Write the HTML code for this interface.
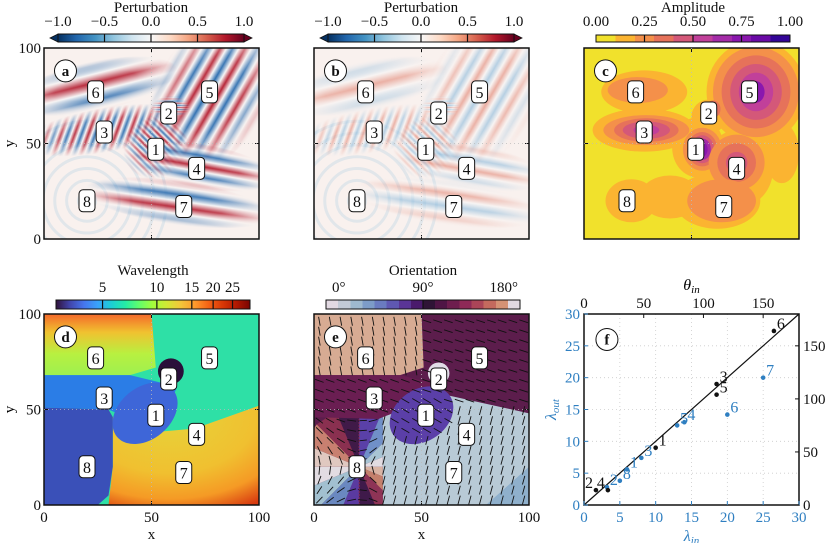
<!DOCTYPE html>
<html><head><meta charset="utf-8">
<style>
html,body{margin:0;padding:0;background:#fff;}
svg, svg text{font-family:"Liberation Serif","Times New Roman",Times,"DejaVu Serif",serif;}
</style></head>
<body>
<svg id="fig" xmlns="http://www.w3.org/2000/svg" width="827" height="543" viewBox="0 0 827 543">
<defs id="defs"></defs>
</svg>
<script>
// ---------- data ----------
const sourceIds = ['1','2','3','4','5','6','7','8'];
const sourceX = [52, 58, 28, 71, 77, 24, 65, 20];
const sourceY = [47, 66, 56, 37, 77, 77, 17, 20];
const axisTicks = [0, 50, 100];
// panel f
const thetaLabels = ['1','2','3','4','5','6'];
const thetaIn  = [60, 10, 111, 20, 111, 159];
const thetaOut = [54, 14, 114, 14, 104, 164];
const lambdaLabels = ['1','2','3','4','5','6','7','8'];
const lambdaIn  = [6.0, 3.2, 8.0, 14.0, 13.0, 20.0, 25.0, 5.0];
const lambdaOut = [5.6, 2.8, 7.4, 13.0, 12.5, 14.2, 20.0, 3.8];
const lambdaTicks = [0,5,10,15,20,25,30];
const thetaTicksTop = [0,50,100,150];
const thetaTicksRight = [0,50,100,150];
const pertTicks = [-1.0,-0.5,0.0,0.5,1.0];
const ampTicks = [0.00,0.25,0.50,0.75,1.00];
const wlTicks = [5,10,15,20,25];
const orTicks = ['0°','90°','180°'];

const NS='http://www.w3.org/2000/svg';
const FONT="'Liberation Serif','Times New Roman',Times,'DejaVu Serif',serif";
const svg=document.getElementById('fig');
const defs=document.getElementById('defs');
function el(tag,attrs,parent){const e=document.createElementNS(NS,tag);for(const k in attrs)e.setAttribute(k,attrs[k]);(parent||svg).appendChild(e);return e;}
function txt(x,y,s,size,anchor,parent,fill){const t=el('text',{x:x,y:y,'font-size':size,'text-anchor':anchor||'middle',fill:fill||'#111'},parent);t.style.fontFamily=FONT;t.textContent=s;return t;}

const P={a:[44,48],b:[314,48],c:[584,48],d:[44,314],e:[314,314],f:[584,314]};
const W=215,H=191;
function mk(p){const [x0,y0]=P[p];return {X:v=>x0+v/100*W,Y:v=>y0+H-v/100*H,S:W/100,x0:x0,y0:y0};}

function clip(id,p){const c=el('clipPath',{id:id},defs);el('rect',{x:P[p][0],y:P[p][1],width:W,height:H},c);}
['a','b','c','d','e','f'].forEach(p=>clip('clip-'+p,p));

let pid=0;
function stripePattern(lam,ang,amp){
  const id='pat'+(pid++);
  const g=el('linearGradient',{id:id+'g',x1:0,y1:0,x2:1,y2:0},defs);
  const r=amp>0.6?'#b2182b':'#e0806e', b=amp>0.6?'#2166ac':'#84b6da';
  [[0,r],[0.25,'#f7f7f7'],[0.5,b],[0.75,'#f7f7f7'],[1,r]].forEach(s=>el('stop',{offset:s[0],'stop-color':s[1]},g));
  const pt=el('pattern',{id:id,patternUnits:'userSpaceOnUse',width:lam,height:10,patternTransform:'rotate('+ang+')'},defs);
  el('rect',{x:0,y:0,width:lam,height:10,fill:'url(#'+id+'g)'},pt);
  return id;
}
let mid=0;
function fadeMask(cx,cy,rx,ry,rot){
  const id='msk'+(mid++);
  const rg=el('radialGradient',{id:id+'r'},defs);
  [[0,'#fff',1],[0.5,'#fff',0.85],[1,'#fff',0]].forEach(s=>el('stop',{offset:s[0],'stop-color':s[1],'stop-opacity':s[2]},rg));
  const m=el('mask',{id:id,maskUnits:'userSpaceOnUse',x:0,y:0,width:827,height:543},defs);
  el('ellipse',{cx:cx,cy:cy,rx:rx,ry:ry,fill:'url(#'+id+'r)',transform:'rotate('+rot+' '+cx+' '+cy+')'},m);
  return id;
}

// wave field components: [cx,cy,rx,ry,rot,lam,stripeAng,amp]
const waves=[
 [78,76,20,30,30,10,30,0.9],
 [24,80,30,9,-12,16,76,0.85],
 [28,57,30,8,-10,6,20,0.85],
 [52,48,12,11,-35,4,-45,0.95],
 [74,38,26,8,10,10,-80,0.85],
 [62,19,34,8,8,12,-82,0.85],
 [59,69,7,4,0,2,90,0.8]
];

function axesFrame(p,showX,showY,name){
  const m=mk(p);
  const g=el('g',{});
  el('rect',{x:m.x0,y:m.y0,width:W,height:H,fill:'none',stroke:'#111','stroke-width':1.5},g);
  axisTicks.forEach(v=>{
    el('line',{x1:m.X(v),x2:m.X(v),y1:m.y0+H,y2:m.y0+H-4,stroke:'#111'},g);
    el('line',{x1:m.X(v),x2:m.X(v),y1:m.y0,y2:m.y0+4,stroke:'#111'},g);
    el('line',{x1:m.x0,x2:m.x0+4,y1:m.Y(v),y2:m.Y(v),stroke:'#111'},g);
    el('line',{x1:m.x0+W,x2:m.x0+W-4,y1:m.Y(v),y2:m.Y(v),stroke:'#111'},g);
    if(showY){const t=txt(m.x0-3,m.Y(v)+5,String(v),15,'end',g);}
    if(showX){const t=txt(m.X(v),m.y0+H+17,String(v),15,'middle',g);}
  });
  el('line',{x1:m.x0,x2:m.x0+W,y1:m.Y(50),y2:m.Y(50),stroke:'#bbb','stroke-dasharray':'1,3','stroke-width':0.8},g);
  el('line',{x1:m.X(50),x2:m.X(50),y1:m.y0,y2:m.y0+H,stroke:'#bbb','stroke-dasharray':'1,3','stroke-width':0.8},g);
  if(showY){const t=el('text',{x:0,y:0,'font-size':15,'text-anchor':'middle',transform:'translate(14,'+(m.Y(50))+') rotate(-90)'},g);t.style.fontFamily=FONT;t.textContent='y';}
  if(showX){const t=txt(m.X(50),m.y0+H+34,'x',15,'middle',g);}
}
function sourceLabels(p){
  const m=mk(p);
  const g=el('g',{});
  sourceIds.forEach((s,i)=>{
    const cx=m.X(sourceX[i]),cy=m.Y(sourceY[i]);
    const b=el('rect',{x:cx-8,y:cy-11,width:16,height:22,rx:4,fill:'#fff',stroke:'#111','stroke-width':1},g);
    
    
    txt(cx,cy+6,s,16,'middle',g);
  });
  const c=el('circle',{cx:m.X(10),cy:m.Y(88),r:11,fill:'#fff',stroke:'#111','stroke-width':1},g);
  
  
  const t=txt(m.X(10),m.Y(88)+5,p,15,'middle',g);t.setAttribute('font-weight','bold');
}

// ---------- panels a & b ----------
function pertPanel(p,scale){
  const m=mk(p);
  const g=el('g',{'clip-path':'url(#clip-'+p+')',});
  el('rect',{x:m.x0,y:m.y0,width:W,height:H,fill:'#f9f1ee'},g);
  const rg=el('g',{opacity:0.25},g);
  for(let r=4;r<40;r+=5.5){el('circle',{cx:m.X(20),cy:m.Y(20),r:r*m.S,fill:'none',stroke:'#9ec6e0','stroke-width':3},rg);}
  waves.forEach(w=>{
    const cx=m.X(w[0]),cy=m.Y(w[1]);
    const pat=stripePattern(w[5]*m.S,w[6],w[7]*scale);
    const mk2=fadeMask(cx,cy,w[2]*m.S*1.3,w[3]*m.S*1.3,w[4]);
    el('rect',{x:m.x0,y:m.y0,width:W,height:H,fill:'url(#'+pat+')',mask:'url(#'+mk2+')',opacity:Math.min(1,w[7]*scale+0.1)},g);
  });
}
pertPanel('a',1.0);
pertPanel('b',0.6);
axesFrame('a',false,true,'panel-a');
axesFrame('b',false,false,'panel-b');
sourceLabels('a');sourceLabels('b');

function colorbar(x,y,w,h,stops,id,name,stepped){
  const lg=el('linearGradient',{id:id,x1:0,y1:0,x2:1,y2:0},defs);
  if(stepped){const n=stops.length;stops.forEach((c,i)=>{el('stop',{offset:i/n,'stop-color':c},lg);el('stop',{offset:(i+1)/n,'stop-color':c},lg);});}
  else stops.forEach((c,i)=>el('stop',{offset:i/(stops.length-1),'stop-color':c},lg));
  const r=el('rect',{x:x,y:y,width:w,height:h,fill:'url(#'+id+')',stroke:'#111','stroke-width':1});
  
  
}
const rdbu=['#053061','#2166ac','#4393c3','#92c5de','#d1e5f0','#f7f7f7','#fddbc7','#f4a582','#d6604d','#b2182b','#67001f'];
function pertBar(x0,name){
  const x=x0,w=186,y=34,h=8;
  el('polygon',{points:(x-8)+','+(y+h/2)+' '+x+','+y+' '+x+','+(y+h),fill:'#053061',stroke:'#111','stroke-width':0.8});
  el('polygon',{points:(x+w+8)+','+(y+h/2)+' '+(x+w)+','+y+' '+(x+w)+','+(y+h),fill:'#67001f',stroke:'#111','stroke-width':0.8});
  colorbar(x,y,w,h,rdbu,'g'+name,name+'-colorbar',false);
  pertTicks.forEach(v=>{const px=x+(v+1)/2*w;
    if(v>-1&&v<1)el('line',{x1:px,x2:px,y1:y,y2:y+h,stroke:'#111','stroke-width':1.2});
    const t=txt(px,26,(v<0?'−':'')+Math.abs(v).toFixed(1),15,'middle');});
  const t=txt(x+w/2,12,'Perturbation',15,'middle');
}
pertBar(58,'a');pertBar(328,'b');

// ---------- panel c ----------
const ampCols=['#f1e12c','#fbb431','#f4904a','#e6725a','#d45879','#c1409a','#a42ca8','#8a17ae','#6a0aa6','#330597'];
(function(){
  const m=mk('c');
  const g=el('g',{'clip-path':'url(#clip-c)',});
  el('rect',{x:m.x0,y:m.y0,width:W,height:H,fill:ampCols[0]},g);
  const env=[[80,77,23,24],[28,77,20,10],[28,57,24,10],[53,48,12,14],[72,37,16,18],[62,20,20,13],[22,20,12,10],[40,22,14,10],[58,64,8,8],[92,45,8,14]];
  env.forEach(e=>el('ellipse',{cx:m.X(e[0]),cy:m.Y(e[1]),rx:e[2]*m.S,ry:e[3]*m.S,fill:ampCols[1]},g));
  const lv=[
    [80,77,[[20,21,2],[16,17,3],[12,13,4],[8,9,5],[4,5,7]]],
    [25,78,[[14,6,2]]],
    [29,57,[[20,7,2],[15,5.5,3],[11,4,4],[6,2.5,5]]],
    [55,47,[[9,10,2],[7,8,3],[5.5,6.5,4],[4,5,6],[2.5,3.5,7]]],
    [71,40,[[13,13,2],[9,9,3],[5,5,4]]],
    [64,20,[[16,10,2]]],
    [60,68,[[3.5,4,3],[2,2.5,5]]]
  ];
  lv.forEach(b=>b[2].forEach(l=>el('ellipse',{cx:m.X(b[0]),cy:m.Y(b[1]),rx:l[0]*m.S,ry:l[1]*m.S,fill:ampCols[l[2]]},g)));
})();
axesFrame('c',false,false,'panel-c');sourceLabels('c');
colorbar(596,35,194,7,ampCols.slice(0,8).concat(['#6a0aa6','#330597']),'gc','amplitude-colorbar',true);
ampTicks.forEach((v,i)=>{const px=596+v*194;if(i>0&&i<4)el('line',{x1:px,x2:px,y1:35,y2:42,stroke:'#111','stroke-width':1.2});
  const t=txt(px,26,v.toFixed(2),15,'middle');});
{const t=txt(693,12,'Amplitude',15,'middle');}

// ---------- panel d ----------
(function(){
  const m=mk('d');
  const g=el('g',{'clip-path':'url(#clip-d)',});
  const pts=a=>a.map(p=>m.X(p[0])+','+m.Y(p[1])).join(' ');
  const tl=el('linearGradient',{id:'dtl',x1:0,y1:0,x2:0,y2:1},defs);
  [['0','#f5682a'],['0.3','#f0c230'],['0.65','#b8f040'],['1','#9ef050']].forEach(s=>el('stop',{offset:s[0],'stop-color':s[1]},tl));
  el('rect',{x:m.x0,y:m.y0,width:W,height:H,fill:'#2ee0a6'},g);
  el('polygon',{points:pts([[0,100],[50,100],[52,72],[40,68],[0,68]]),fill:'url(#dtl)'},g);
  el('polygon',{points:pts([[0,68],[40,68],[62,62],[58,52],[48,48],[40,45],[30,50],[0,51]]),fill:'#2b7de6'},g);
  const br=el('radialGradient',{id:'dbr',cx:0.4,cy:0.1,r:1.05},defs);
  [['0','#e6d43a'],['0.55','#f0c030'],['0.8','#f59a25'],['1','#d83a10']].forEach(s=>el('stop',{offset:s[0],'stop-color':s[1]},br));
  el('polygon',{points:pts([[32,46],[50,38],[70,40],[100,52],[100,0],[30,0],[32,20]]),fill:'url(#dbr)'},g);
  el('polygon',{points:pts([[0,51],[30,50],[32,46],[32,20],[30,5],[25,0],[0,0]]),fill:'#3a50b8'},g);
  el('ellipse',{cx:m.X(47),cy:m.Y(48),rx:17*m.S,ry:12*m.S,fill:'#3e66d8',transform:'rotate(-40 '+m.X(47)+' '+m.Y(48)+')'},g);
  el('circle',{cx:m.X(59),cy:m.Y(70),r:6*m.S,fill:'#2a0f3a'},g);
})();
axesFrame('d',true,true,'panel-d');sourceLabels('d');
(function(){
  const x=56,w=194,y=300,h=9;
  colorbar(x,y,w,h,['#30123b','#4145ab','#4675ed','#39a2fc','#1bcfd4','#24eca6','#61fc6c','#a4fc3b','#d1e835','#f3c63a','#fe9b2d','#f36315','#d93806','#b11901','#7a0402'],'gd','wavelength-colorbar',false);
  const pos=[0.24,0.52,0.70,0.81,0.91];
  wlTicks.forEach((v,i)=>{const px=x+pos[i]*w;el('line',{x1:px,x2:px,y1:y,y2:y+h,stroke:'#111','stroke-width':1.2});
    const t=txt(px,292,String(v),15,'middle');});
  const t=txt(x+w/2,275,'Wavelength',15,'middle');
})();

// ---------- panel e ----------
(function(){
  const m=mk('e');
  const g=el('g',{'clip-path':'url(#clip-e)',});
  const pts=a=>a.map(p=>m.X(p[0])+','+m.Y(p[1])).join(' ');
  el('rect',{x:m.x0,y:m.y0,width:W,height:H,fill:'#5c1d4c'},g);
  el('polygon',{points:pts([[0,100],[50,100],[51,72],[40,68],[0,68]]),fill:'#d7ab93'},g);
  el('polygon',{points:pts([[0,68],[40,68],[62,62],[58,52],[30,45],[0,46]]),fill:'#6a1e52'},g);
  el('polygon',{points:pts([[32,46],[60,58],[100,48],[100,0],[32,0]]),fill:'#b8cad6'},g);
  el('polygon',{points:pts([[100,0],[80,0],[100,20]]),fill:'#8fb0cc'},g);
  el('ellipse',{cx:m.X(50),cy:m.Y(47),rx:16*m.S,ry:12*m.S,fill:'#5b3fa8',transform:'rotate(-35 '+m.X(50)+' '+m.Y(47)+')'},g);
  el('circle',{cx:m.X(58),cy:m.Y(69),r:5*m.S,fill:'#e0dce6'},g);
  const fanCols=['#d9b4a4','#c4806c','#8e3456','#3f1a4a','#5a3aa0','#6a88c0','#a2c0d0','#e2dce2','#e0c8c0','#c88070','#8a3050','#401a48','#5a40a8','#7090c8','#a8c4d4','#e2dce2'];
  const cx=m.X(21),cy=m.Y(20),R=60;
  const fg=el('g',{},g);
  const fc=el('clipPath',{id:'fanclip'},defs);
  el('polygon',{points:pts([[0,46],[30,45],[32,46],[32,0],[0,0]])},fc);
  fg.setAttribute('clip-path','url(#fanclip)');
  fanCols.forEach((c,i)=>{const a1=i/fanCols.length*2*Math.PI,a2=(i+1)/fanCols.length*2*Math.PI;
    el('path',{d:'M'+cx+','+cy+' L'+(cx+R*Math.cos(a1))+','+(cy+R*Math.sin(a1))+' L'+(cx+R*Math.cos(a2))+','+(cy+R*Math.sin(a2))+'Z',fill:c},fg);});
  const ag=el('g',{stroke:'#111','stroke-width':0.9},g);
  for(let i=0;i<20;i++)for(let j=0;j<19;j++){
    const dx=2.5+i*5,dy=2.6+j*5.2;let ang;
    if(Math.hypot(dx-58,dy-69)<5) continue;
    if(dy>68&&dx<50) ang=100;
    else if(Math.hypot((dx-50)/1.1,dy-47)<13) ang=150;
    else if(dy>45&&dx<50) ang=160;
    else if(dx>=32&&!(dx>60&&dy>50)&&dy<58) ang=75;
    else if(dx<32&&dy<46){ang=Math.atan2(-(dy-20),dx-21)*180/Math.PI+90;}
    else ang=162;
    const px=m.X(dx),py=m.Y(dy),L=4.5,r=ang*Math.PI/180;
    el('line',{x1:px-L*Math.cos(r),y1:py+L*Math.sin(r),x2:px+L*Math.cos(r),y2:py-L*Math.sin(r)},ag);
  }
  el('line',{x1:m.X(21),x2:m.X(21),y1:m.Y(45),y2:m.Y(0),stroke:'#8a2a5a','stroke-width':1,'stroke-dasharray':'2,1'},g);
})();
axesFrame('e',true,false,'panel-e');sourceLabels('e');
(function(){
  const x=326,w=194,y=300,h=9;
  colorbar(x,y,w,h,['#e2d9e2','#c3cad6','#9eb9cf','#7d9cc8','#6a7bc0','#5f58b2','#5a3596','#4a1a6c','#2f1436','#4f1545','#6e1d4e','#8e2a57','#ab4558','#c46a5e','#d59275','#e2d9e2'],'ge','orientation-colorbar',true);
  el('line',{x1:x+w/2,x2:x+w/2,y1:y,y2:y+h,stroke:'#111','stroke-width':1.2});
  [[x+6,'start'],[x+w/2,'middle'],[x+w-2,'end']].forEach((q,i)=>{const t=txt(q[0],292,orTicks[i],15,q[1]);});
  const t=txt(x+w/2,275,'Orientation',15,'middle');
})();

// ---------- panel f ----------
(function(){
  const x0=584,y0=314;
  const LX=v=>x0+v/30*W, LY=v=>y0+H-v/30*H;
  const TX=v=>x0+v/180*W, TY=v=>y0+H-v/180*H;
  const blue='#2f7fc1';
  const g=el('g',{});
  const grid=el('g',{stroke:'#ccc','stroke-dasharray':'1,3','stroke-width':0.8},g);
  lambdaTicks.forEach(v=>{if(v>0&&v<30){el('line',{x1:LX(v),x2:LX(v),y1:y0,y2:y0+H},grid);el('line',{x1:x0,x2:x0+W,y1:LY(v),y2:LY(v)},grid);}});
  el('line',{x1:LX(0),y1:LY(0),x2:LX(30),y2:LY(30),stroke:'#111','stroke-width':1.2,},g);
  el('rect',{x:x0,y:y0,width:W,height:H,fill:'none',stroke:'#111','stroke-width':1.5},g);
  lambdaTicks.forEach(v=>{
    el('line',{x1:LX(v),x2:LX(v),y1:y0+H,y2:y0+H-4,stroke:blue},g);
    el('line',{x1:x0,x2:x0+4,y1:LY(v),y2:LY(v),stroke:blue},g);
    const a=txt(LX(v),y0+H+17,String(v),15,'middle',g,blue);
    const b=txt(x0-4,LY(v)+5,String(v),15,'end',g,blue);
  });
  thetaTicksTop.forEach(v=>{el('line',{x1:TX(v),x2:TX(v),y1:y0,y2:y0+4,stroke:'#111'},g);
    const t=txt(TX(v),y0-6,String(v),15,'middle',g);});
  thetaTicksRight.forEach(v=>{el('line',{x1:x0+W,x2:x0+W-4,y1:TY(v),y2:TY(v),stroke:'#111'},g);
    const t=txt(x0+W+4,TY(v)+5,String(v),15,'start',g);});
  const tt=el('text',{x:x0+W/2,y:y0-24,'font-size':16,'text-anchor':'middle','font-style':'italic'},g);tt.style.fontFamily=FONT;tt.innerHTML='θ<tspan font-size="11" dy="3">in</tspan>';
  
  const bt=el('text',{x:x0+W/2,y:y0+H+36,'font-size':16,'text-anchor':'middle','font-style':'italic',fill:blue},g);bt.style.fontFamily=FONT;bt.innerHTML='λ<tspan font-size="11" dy="3">in</tspan>';
  
  const lt=el('text',{x:0,y:0,'font-size':16,'text-anchor':'middle','font-style':'italic',fill:blue,transform:'translate(556,'+(y0+H/2)+') rotate(-90)'},g);lt.style.fontFamily=FONT;lt.innerHTML='λ<tspan font-size="11" dy="3">out</tspan>';
  
  lambdaLabels.forEach((s,i)=>{
    const c=el('circle',{cx:LX(lambdaIn[i]),cy:LY(lambdaOut[i]),r:2.3,fill:blue},g);
    
    txt(LX(lambdaIn[i])+3,LY(lambdaOut[i])-2,s,16,'start',g,blue);
  });
  thetaLabels.forEach((s,i)=>{
    const c=el('circle',{cx:TX(thetaIn[i]),cy:TY(thetaOut[i]),r:2.3,fill:'#111'},g);
    
    const left=(s==='2'||s==='4');
    txt(TX(thetaIn[i])+(left?-3:3),TY(thetaOut[i])-2,s,16,left?'end':'start',g);
  });
  const c=el('circle',{cx:LX(3.2),cy:LY(26),r:11,fill:'#fff',stroke:'#111'},g);
  
  const t=txt(LX(3.2),LY(26)+5,'f',15,'middle',g);t.setAttribute('font-weight','bold');
})();
</script>
</body></html>
